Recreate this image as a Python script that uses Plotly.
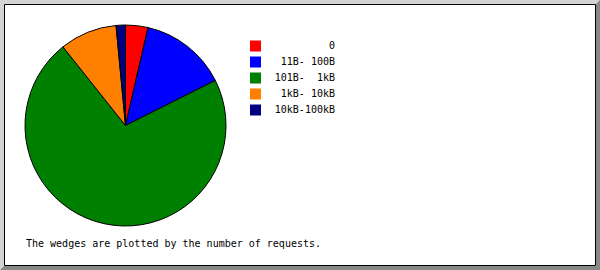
import plotly.graph_objects as go

W, H = 600, 270

labels = ["0", "11B- 100B", "101B-  1kB", "1kB- 10kB", "10kB-100kB"]
values = [3.6, 14.0, 71.7, 9.2, 1.5]
colors = ["#ff0000", "#0000ff", "#008000", "#ff8000", "#000080"]
footer = "The wedges are plotted by the number of requests."

FONT = dict(family="DejaVu Sans Mono", size=10, color="#000000")

def px(x):
    return x / W

def py(y):
    return 1 - y / H

fig = go.Figure()
fig.add_trace(go.Pie(
    labels=labels,
    values=values,
    sort=False,
    direction="clockwise",
    rotation=0,
    marker=dict(colors=colors, line=dict(color="#000000", width=1)),
    textinfo="none",
    hoverinfo="skip",
    showlegend=False,
    domain=dict(x=[px(25), px(226)], y=[py(226), py(25)]),
))

# legend drawn as a small scatter on hidden pixel-scaled axes
rows = list(range(len(labels)))
fig.add_trace(go.Scatter(
    x=[255.5] * len(labels), y=rows, mode="markers",
    marker=dict(symbol="square", size=11, color=colors, line=dict(width=0)),
    hoverinfo="skip", showlegend=False, cliponaxis=False,
))
fig.add_trace(go.Scatter(
    x=[335] * len(labels), y=rows, mode="text",
    text=labels, textposition="middle left", textfont=FONT,
    hoverinfo="skip", showlegend=False, cliponaxis=False,
))

# frame: dark bevel on bottom/right
path = (f"M {px(0)},{py(270)} L {px(600)},{py(270)} L {px(600)},{py(0)} "
        f"L {px(596)},{py(4)} L {px(596)},{py(266)} L {px(4)},{py(266)} Z")
shapes = [
    dict(type="path", xref="paper", yref="paper", path=path,
         fillcolor="#888888", line=dict(width=0), layer="below"),
    dict(type="rect", xref="paper", yref="paper",
         x0=px(4.5), x1=px(595.5), y0=py(265.5), y1=py(4.5),
         fillcolor="#ffffff", line=dict(color="#000000", width=1), layer="below"),
]

fig.update_layout(
    width=W, height=H,
    margin=dict(l=0, r=0, t=0, b=0),
    paper_bgcolor="#d4d4d4",
    plot_bgcolor="rgba(0,0,0,0)",
    shapes=shapes,
    xaxis=dict(range=[0, W], domain=[0, 1], visible=False, fixedrange=True),
    yaxis=dict(range=[(H - 46) / 16, -46 / 16], domain=[0, 1], visible=False,
               fixedrange=True),
    annotations=[dict(
        text=footer, xref="paper", yref="paper",
        x=px(24), y=py(243), xanchor="left", yanchor="middle",
        showarrow=False, font=FONT,
    )],
)

fig.write_html("out.html", config=dict(displayModeBar=False))
